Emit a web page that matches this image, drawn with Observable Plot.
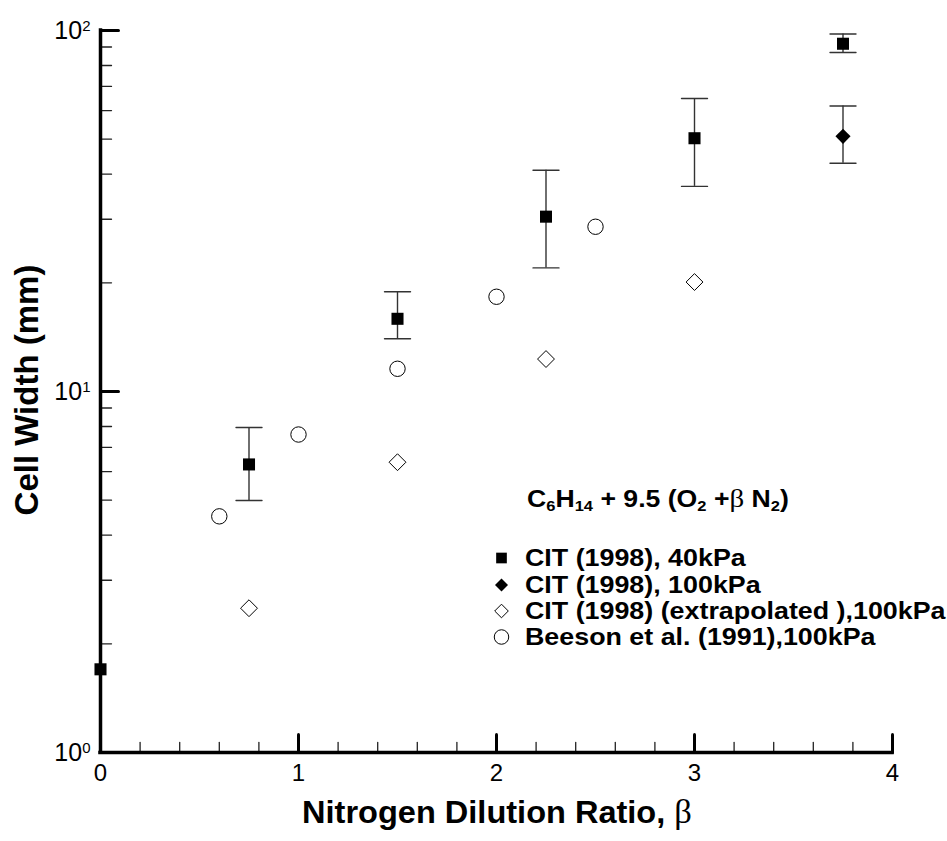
<!DOCTYPE html>
<html><head><meta charset="utf-8">
<script src="https://cdn.jsdelivr.net/npm/d3@7"></script>
<script src="https://cdn.jsdelivr.net/npm/@observablehq/plot@0.6"></script>
<style>
body{margin:0;background:#fff;font-family:"Liberation Sans",Arial,Helvetica,sans-serif}
#chart{width:947px;height:841px;position:relative}
</style>
</head><body><div id="chart"></div>
<script>
// ---- Data ----
const cit40X  = [0, 0.75, 1.5, 2.25, 3, 3.75];
const cit40Y  = [1.70, 6.28, 15.9, 30.5, 50.3, 91.9];
const cit40Lo = [null, 4.99, 14.0, 22.0, 37.0, 86.9];
const cit40Hi = [null, 7.95, 18.9, 41.0, 64.8, 97.8];

const cit100X  = [3.75];
const cit100Y  = [50.9];
const cit100Lo = [42.9];
const cit100Hi = [61.8];

const extrapX = [0.75, 1.5, 2.25, 3];
const extrapY = [2.51, 6.37, 12.3, 20.1];

const beesonX = [0.6, 1.0, 1.5, 2.0, 2.5];
const beesonY = [4.51, 7.60, 11.56, 18.3, 28.6];

// ---- Ticks / labels ----
const xMajorTicks = [0, 1, 2, 3, 4];
const xMinorTicks = [0.2,0.4,0.6,0.8,1.2,1.4,1.6,1.8,2.2,2.4,2.6,2.8,3.2,3.4,3.6,3.8];
const yMajorTicks = [1, 10, 100];
const yMinorTicks = [2,3,4,5,6,7,8,9,20,30,40,50,60,70,80,90];
const xLabel = "Nitrogen Dilution Ratio, ";
const yLabel = "Cell Width (mm)";
const legendLabels = ["CIT (1998), 40kPa","CIT (1998), 100kPa","CIT (1998) (extrapolated ),100kPa","Beeson et al. (1991),100kPa"];

// ---- Tables built from arrays ----
const cit40 = cit40X.map((x,i)=>({x, y: cit40Y[i], lo: cit40Lo[i], hi: cit40Hi[i]}));
const bars40 = cit40.filter(d => d.lo != null);
const cit100 = cit100X.map((x,i)=>({x, y: cit100Y[i], lo: cit100Lo[i], hi: cit100Hi[i]}));
const bars = bars40.concat(cit100);
const extrap = extrapX.map((x,i)=>({x, y: extrapY[i]}));
const beeson = beesonX.map((x,i)=>({x, y: beesonY[i]}));

const line = {draw(ctx, l){ ctx.moveTo(0,0); ctx.lineTo(0,-l); }};
const errColor = "#333";

const svg = Plot.plot({
  width: 947, height: 841,
  marginLeft: 100, marginRight: 55, marginTop: 30, marginBottom: 89,
  style: {fontFamily: '"Liberation Sans", Arial, sans-serif', background: "white", color: "black"},
  x: {domain: [0, 4]},
  y: {type: "log", domain: [1, 100]},
  marks: [
    Plot.vector(xMinorTicks, {x: d=>d, frameAnchor: "bottom", length: 10, rotate: 0, anchor: "start", shape: line, stroke: "#222", strokeWidth: 1.3}),
    Plot.vector(xMajorTicks, {x: d=>d, frameAnchor: "bottom", length: 18, rotate: 0, anchor: "start", shape: line, stroke: "black", strokeWidth: 3}),
    Plot.vector(yMinorTicks, {y: d=>d, frameAnchor: "left", length: 11, rotate: 90, anchor: "start", shape: line, stroke: "#222", strokeWidth: 1.3}),
    Plot.vector(yMajorTicks, {y: d=>d, frameAnchor: "left", length: 18, rotate: 90, anchor: "start", shape: line, stroke: "black", strokeWidth: 3}),
    Plot.ruleX([0], {stroke: "black", strokeWidth: 3.5, strokeLinecap: "square"}),
    Plot.ruleY([1], {stroke: "black", strokeWidth: 3.5, strokeLinecap: "square"}),
    Plot.ruleX(bars, {x: "x", y1: "lo", y2: "hi", stroke: errColor, strokeWidth: 1.4}),
    Plot.vector(bars, {x: "x", y: "lo", length: 26, rotate: 90, anchor: "middle", shape: line, stroke: errColor, strokeWidth: 1.4}),
    Plot.vector(bars, {x: "x", y: "hi", length: 26, rotate: 90, anchor: "middle", shape: line, stroke: errColor, strokeWidth: 1.4}),
    Plot.dot(beeson, {x: "x", y: "y", symbol: "circle", r: 7.7, fill: "white", stroke: "black", strokeWidth: 1}),
    Plot.dot(extrap, {x: "x", y: "y", symbol: "diamond2", r: 7.6, fill: "white", stroke: "black", strokeWidth: 1}),
    Plot.dot(cit40, {x: "x", y: "y", symbol: "square", r: 6.8, fill: "black", stroke: "none"}),
    Plot.dot(cit100, {x: "x", y: "y", symbol: "diamond2", r: 6.8, fill: "black", stroke: "none"}),
    Plot.axisX({ticks: xMajorTicks, tickSize: 0, tickPadding: 11, fontSize: 24, label: null, tickFormat: d => String(d)}),
    Plot.axisY({ticks: yMajorTicks, tickSize: 0, tickPadding: 10, fontSize: 25, label: null, tickFormat: d => "10^" + Math.round(Math.log10(d))})
  ]
});
document.getElementById("chart").appendChild(svg);

const S = d3.select(svg);
S.selectAll('g[aria-label="y-axis tick label"] text').each(function(){
  const t = d3.select(this);
  const [base, exp] = t.text().split("^");
  t.text(null);
  t.append("tspan").text(base);
  t.append("tspan").attr("dy", "-0.52em").attr("font-size", "0.6em").text(exp);
});

const serif = '"Liberation Serif","DejaVu Serif",serif';
function fitWidth(textSel, target){
  return target / textSel.node().getBBox().width;
}

// x axis label
{
  const g = S.append("g").attr("font-weight", "bold").attr("font-size", 31).attr("fill", "black");
  const t = g.append("text").attr("text-anchor", "middle");
  t.append("tspan").text(xLabel);
  t.append("tspan").attr("font-family", serif).attr("font-weight", "normal").attr("font-size", 33).text("β");
  const s = fitWidth(t, 390);
  g.attr("transform", `translate(497,823) scale(${s},1)`);
}
// y axis label
S.append("text").attr("transform", "translate(38,390) rotate(-90)")
  .attr("text-anchor", "middle").attr("font-weight", "bold").attr("font-size", 33).attr("fill", "black").text(yLabel);

// formula
{
  const g = S.append("g").attr("font-weight", "bold").attr("font-size", 23).attr("fill", "black");
  const t = g.append("text").attr("text-anchor", "start");
  const segs = [["C",0],["6",1],["H",0],["14",1],[" + 9.5 (O",0],["2",1],[" +",0],["β",2],[" N",0],["2",1],[")",0]];
  let prevSub = false;
  for (const [s, k] of segs) {
    const sp = t.append("tspan").text(s);
    if (k === 1) { sp.attr("font-size", "0.62em").attr("dy", prevSub ? 0 : "0.3em"); prevSub = true; }
    else { if (prevSub) sp.attr("dy", "-0.186em"); prevSub = false; }
    if (k === 2) sp.attr("font-family", serif).attr("font-weight", "normal").attr("font-size", 25);
  }
  const s = fitWidth(t, 262);
  g.attr("transform", `translate(527,507) scale(${s},1)`);
}

// legend
{
  const rowsY = [566, 593, 619, 645];
  const syms = [
    {type: d3.symbolSquare, size: 114, fill: "black", stroke: "none"},
    {type: d3.symbolDiamond2, size: 108, fill: "black", stroke: "none"},
    {type: d3.symbolDiamond2, size: 118, fill: "white", stroke: "black"},
    {type: d3.symbolCircle, size: 165, fill: "white", stroke: "black"}
  ];
  const lg = S.append("g").attr("font-weight", "bold").attr("font-size", 23).attr("fill", "black");
  let scale = 1;
  legendLabels.forEach((lab, i) => {
    lg.append("path").attr("d", d3.symbol(syms[i].type, syms[i].size)())
      .attr("transform", `translate(501.5,${rowsY[i] - 8})`)
      .attr("fill", syms[i].fill).attr("stroke", syms[i].stroke).attr("stroke-width", 1);
    const g = lg.append("g");
    const t = g.append("text").attr("text-anchor", "start").text(lab);
    if (i === 0) scale = fitWidth(t, 221);
    g.attr("transform", `translate(525,${rowsY[i]}) scale(${scale},1)`);
  });
}
</script>
</body></html>
